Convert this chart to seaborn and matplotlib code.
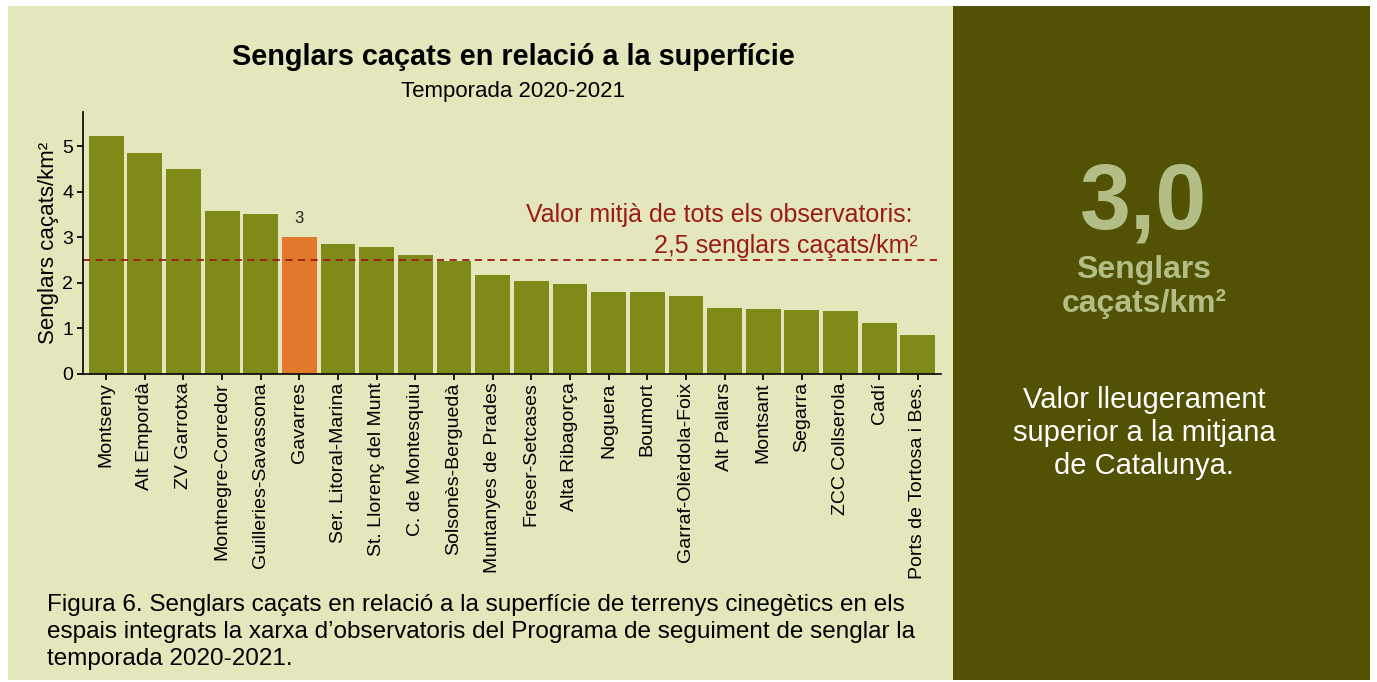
import matplotlib
matplotlib.use("Agg")
import matplotlib.pyplot as plt
import seaborn as sns
import pandas as pd
from matplotlib.patches import Rectangle

# observatoris i senglars caçats per km2 (temporada 2020-2021)
observatoris = ['Montseny', 'Alt Empordà', 'ZV Garrotxa', 'Montnegre-Corredor',
                'Guilleries-Savassona', 'Gavarres', 'Ser. Litoral-Marina',
                'St. Llorenç del Munt', 'C. de Montesquiu', 'Solsonès-Berguedà',
                'Muntanyes de Prades', 'Freser-Setcases', 'Alta Ribagorça',
                'Noguera', 'Boumort', 'Garraf-Olèrdola-Foix', 'Alt Pallars',
                'Montsant', 'Segarra', 'ZCC Collserola', 'Cadí',
                'Ports de Tortosa i Bes.']
densitat = [5.22, 4.84, 4.49, 3.58, 3.52, 3.0, 2.85, 2.78, 2.61, 2.47,
            2.17, 2.05, 1.97, 1.81, 1.80, 1.71, 1.44, 1.42, 1.41, 1.39,
            1.12, 0.86]
destacat = 'Gavarres'
mitjana = 2.5

BEIGE = '#e4e7bb'
OLIVA = '#808a19'
TARONJA = '#e07a2a'
FOSC = '#515204'
VERMELL = '#9b1b17'

df = pd.DataFrame({'obs': observatoris, 'val': densitat})
colors = {o: (TARONJA if o == destacat else OLIVA) for o in observatoris}

sns.set_theme(style='ticks')
plt.rcParams['font.family'] = ['Liberation Sans', 'DejaVu Sans']
plt.rcParams['text.color'] = 'black'
plt.rcParams['axes.labelcolor'] = 'black'

fig = plt.figure(figsize=(13.77, 6.82), dpi=100)
fig.patch.set_facecolor('white')
fig.patches.append(Rectangle((8/1377, 2/682), 945/1377, 674/682,
                             transform=fig.transFigure, facecolor=BEIGE,
                             edgecolor='none', zorder=-2))
fig.patches.append(Rectangle((953/1377, 2/682), 417/1377, 674/682,
                             transform=fig.transFigure, facecolor=FOSC,
                             edgecolor='none', zorder=-2))

ax = fig.add_axes([83/1377, 308/682, 858/1377, 262/682])
ax.set_facecolor('none')
sns.barplot(data=df, x='obs', y='val', hue='obs', palette=colors,
            width=0.9, saturation=1, legend=False, linewidth=0, ax=ax)
ax.set_xlim(-0.6, len(observatoris) - 0.4)
ax.set_ylim(0, 5.75)
ax.set_yticks([0, 1, 2, 3, 4, 5])
ax.set_xlabel('')
ax.set_ylabel('Senglars caçats/km²', fontsize=16, labelpad=2)
ax.tick_params(axis='x', rotation=90, labelsize=14, colors='black',
               length=4, pad=2)
ax.tick_params(axis='y', labelsize=14, colors='black', length=4, pad=3)
for s in ['top', 'right']:
    ax.spines[s].set_visible(False)
for s in ['left', 'bottom']:
    ax.spines[s].set_color('black')
    ax.spines[s].set_linewidth(1.2)

# etiqueta de la barra destacada
idx = observatoris.index(destacat)
ax.bar_label(ax.containers[idx], labels=['3'], padding=8, fontsize=12,
             color='#222222')

ax.axhline(mitjana, color=VERMELL, linestyle=(0, (4, 3)), linewidth=1.3)
ax.text(len(observatoris) - 1.15, mitjana + 1.0,
        'Valor mitjà de tots els observatoris:', ha='right', va='center',
        fontsize=18, color=VERMELL)
ax.text(len(observatoris) - 1.0, mitjana + 0.3, '2,5 senglars caçats/km²',
        ha='right', va='center', fontsize=18, color=VERMELL)

fig.text(513/1377, 1 - 57/682, 'Senglars caçats en relació a la superfície',
         ha='center', va='center', fontsize=20.8, fontweight='bold')
fig.text(513/1377, 1 - 92/682, 'Temporada 2020-2021', ha='center',
         va='center', fontsize=16)

fig.text(47/1377, 1 - 632/682,
         'Figura 6. Senglars caçats en relació a la superfície de terrenys cinegètics en els\n'
         'espais integrats la xarxa d’observatoris del Programa de seguiment de senglar la\n'
         'temporada 2020-2021.',
         ha='left', va='center', fontsize=17.5, linespacing=1.3)

# panell de la dreta
fig.text(1144/1377, 1 - 205/682, '3,0', ha='center', va='center',
         fontsize=66, fontweight='bold', color='#b3be86')
fig.text(1144/1377, 1 - 287/682, 'Senglars\ncaçats/km²', ha='center',
         va='center', fontsize=23, fontweight='bold', color='#b3be86',
         linespacing=1.2)
fig.text(1144/1377, 1 - 433/682,
         'Valor lleugerament\nsuperior a la mitjana\nde Catalunya.',
         ha='center', va='center', fontsize=21, color='white',
         linespacing=1.25)

fig.savefig('out.png', dpi=100, facecolor=fig.get_facecolor())
